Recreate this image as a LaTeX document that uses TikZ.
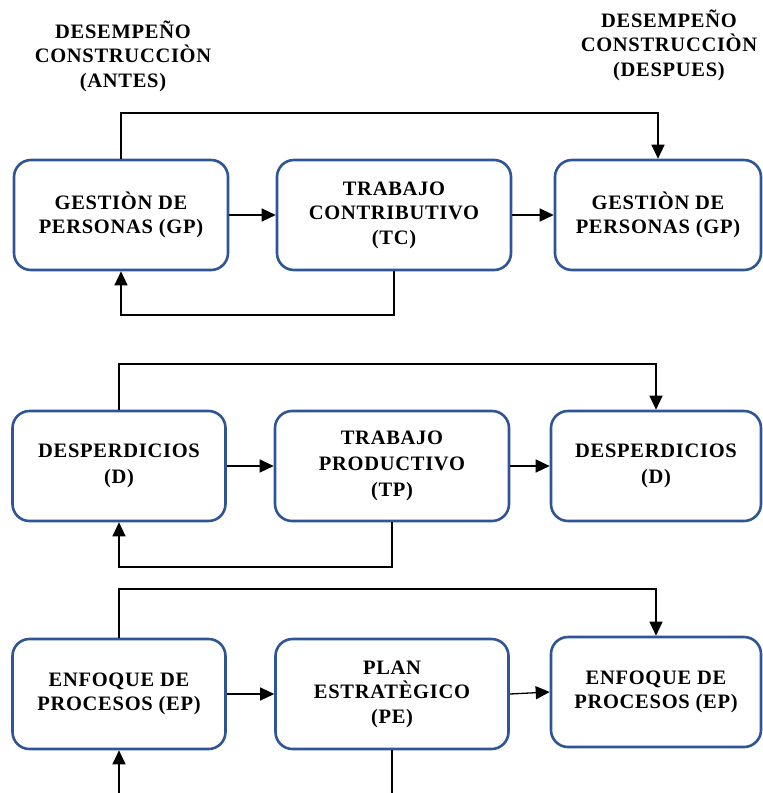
\documentclass[tikz,border=0pt]{standalone}
\usepackage{fontspec}
\setmainfont{Liberation Serif}[BoldFont={Liberation Serif Bold}]
\newfontfamily\diagfont{Liberation Serif Bold}[LetterSpace=3.5]
\usetikzlibrary{arrows.meta}
\definecolor{boxblue}{RGB}{47,85,151}
\tikzset{
  flowbox/.style={draw=boxblue, line width=2.6pt, rounded corners=17pt, fill=white,
    align=center, font=\diagfont\fontsize{20.5}{24.5}\selectfont, inner sep=0pt},
  tallbox/.style={flowbox, font=\diagfont\fontsize{20.5}{26}\selectfont},
  header/.style={align=center, font=\diagfont\fontsize{20.5}{24.5}\selectfont, inner sep=0pt},
  conn/.style={line width=1.3pt, -{Triangle[length=14pt,width=13pt]}},
  plain/.style={line width=1.3pt}
}
\begin{document}
\begin{tikzpicture}[x=1pt,y=-1pt]
\useasboundingbox (0,0) rectangle (763,793);
% headers
\node[header] (hA) at (123,56) {DESEMPEÑO\\CONSTRUCCIÒN\\(ANTES)};
\node[header] (hD) at (669,45) {DESEMPEÑO\\CONSTRUCCIÒN\\(DESPUES)};
% row 1
\node[flowbox, minimum width=214pt, minimum height=110pt] (a1) at (121,215) {GESTIÒN DE\\PERSONAS (GP)};
\node[flowbox, minimum width=234pt, minimum height=110pt] (a2) at (394,215) {TRABAJO\\CONTRIBUTIVO\\(TC)};
\node[flowbox, minimum width=206pt, minimum height=110pt] (a3) at (658,215) {GESTIÒN DE\\PERSONAS (GP)};
% row 2
\node[tallbox, minimum width=213pt, minimum height=110pt] (b1) at (119,466) {DESPERDICIOS\\(D)};
\node[tallbox, minimum width=234pt, minimum height=110pt] (b2) at (392,466) {TRABAJO\\PRODUCTIVO\\(TP)};
\node[tallbox, minimum width=210pt, minimum height=110pt] (b3) at (656,466) {DESPERDICIOS\\(D)};
% row 3
\node[flowbox, minimum width=213pt, minimum height=110pt] (c1) at (119,694) {ENFOQUE DE\\PROCESOS (EP)};
\node[flowbox, minimum width=233pt, minimum height=110pt] (c2) at (392,694) {PLAN\\ESTRATÈGICO\\(PE)};
\node[flowbox, minimum width=210pt, minimum height=110pt] (c3) at (656,692) {ENFOQUE DE\\PROCESOS (EP)};
% row 1 connectors
\draw[conn] (a1.east) -- (a2.west);
\draw[conn] (a2.east) -- (a3.west);
\draw[conn] (a1.north) -- (a1.north |- 0,113) -| (a3.north);
\draw[conn] (a2.south) -- (a2.south |- 0,315) -| (a1.south);
% row 2 connectors
\draw[conn] (b1.east) -- (b2.west);
\draw[conn] (b2.east) -- (b3.west);
\draw[conn] (b1.north) -- (b1.north |- 0,364) -| (b3.north);
\draw[conn] (b2.south) -- (b2.south |- 0,567) -| (b1.south);
% row 3 connectors
\coordinate (c2end) at (c2.south |- 0,793);
\coordinate (c1start) at (c1.south |- 0,793);
\draw[conn] (c1.east) -- (c2.west);
\draw[conn] (c2.east) -- (c3.west);
\draw[conn] (c1.north) -- (c1.north |- 0,589) -| (c3.north);
\draw[plain] (c2.south) -- (c2end);
\draw[conn] (c1start) -- (c1.south);
\end{tikzpicture}
\end{document}
